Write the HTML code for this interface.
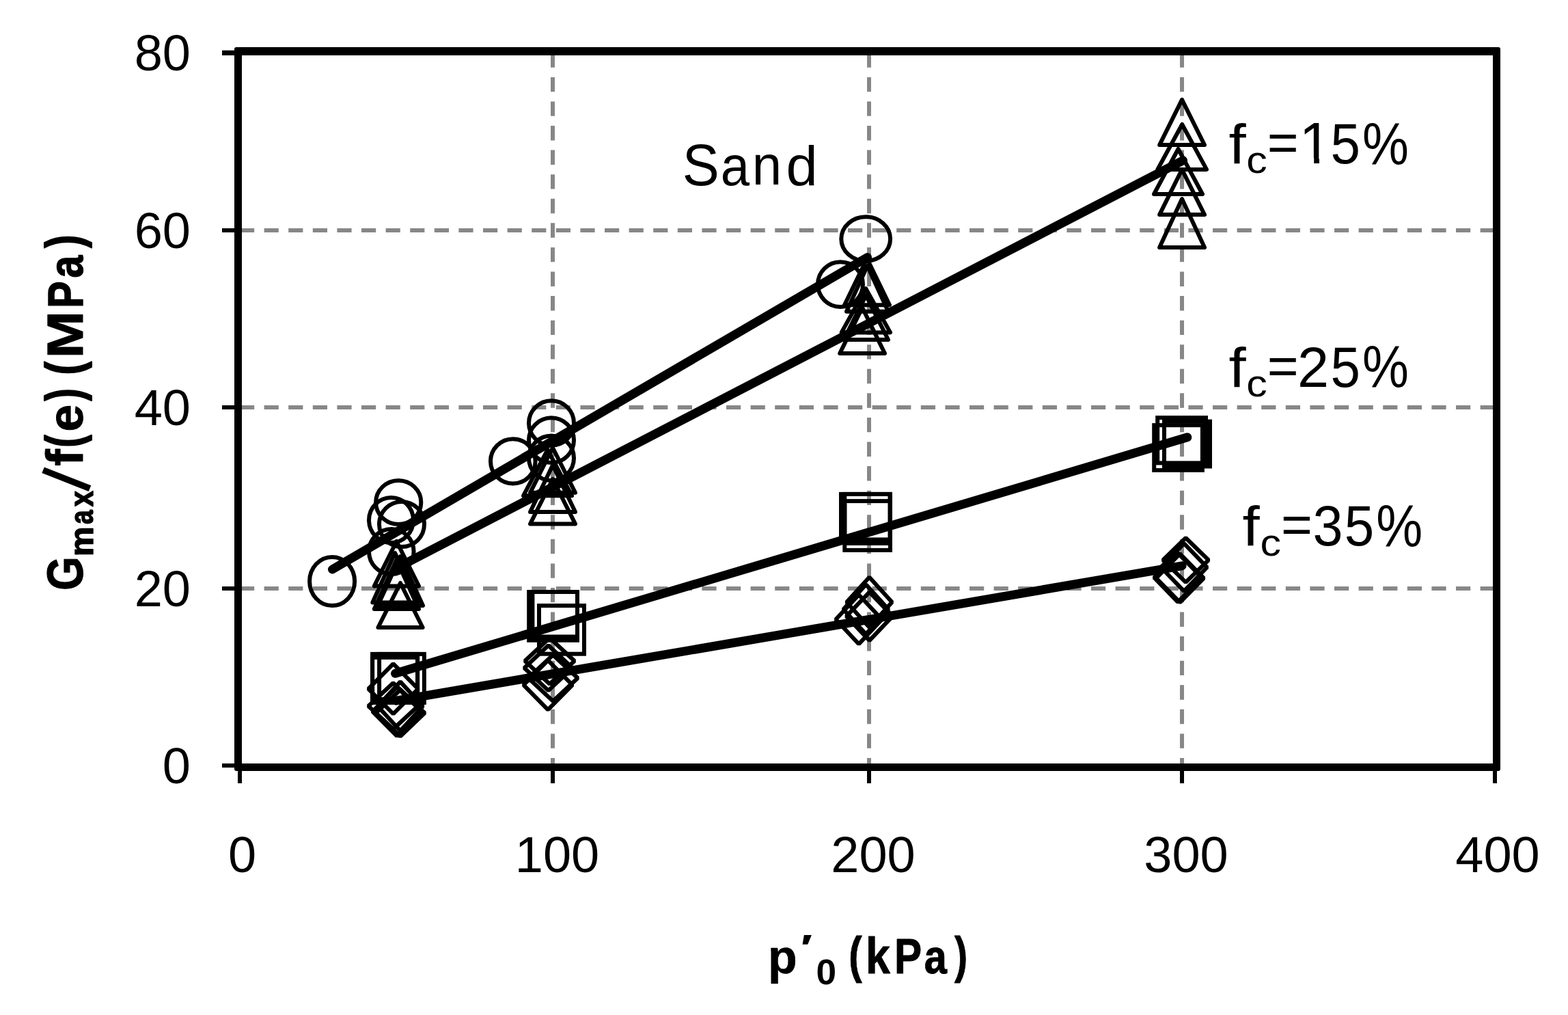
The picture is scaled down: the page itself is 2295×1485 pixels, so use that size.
<!DOCTYPE html>
<html lang="en"><head><meta charset="utf-8"><title>Gmax/f(e) vs p'0</title>
<style>html,body{margin:0;padding:0;background:#fff;}body{width:2295px;height:1485px;overflow:hidden;}svg{display:block;}text{font-family:"Liberation Sans",sans-serif;fill:#000;}.tk{font-size:74px;}.ar{font-size:81px;}.bd{font-weight:bold;font-size:72px;}</style></head><body>
<svg xmlns="http://www.w3.org/2000/svg" width="2295" height="1485" viewBox="0 0 2295 1485">
<rect x="0" y="0" width="2295" height="1485" fill="#fff"/>
<g stroke="#878787" stroke-width="6" fill="none">
<line x1="351" y1="337" x2="2190" y2="337" stroke-dasharray="21.2 14.4"/>
<line x1="351" y1="596" x2="2190" y2="596" stroke-dasharray="21.2 14.4"/>
<line x1="351" y1="861" x2="2190" y2="861" stroke-dasharray="21.2 14.4"/>
<line x1="809" y1="77.3" x2="809" y2="1122" stroke-dasharray="21.4 14.175"/>
<line x1="1272" y1="77.3" x2="1272" y2="1122" stroke-dasharray="21.4 14.175"/>
<line x1="1730" y1="77.3" x2="1730" y2="1122" stroke-dasharray="21.4 14.175"/>
</g>
<path fill="#000" fill-rule="evenodd" d="M346 69H2193A3 3 0 0 1 2196 72V1125A3 3 0 0 1 2193 1128H346A3 3 0 0 1 343 1125V72A3 3 0 0 1 346 69ZM354 81V1117H2185V81Z"/>
<g stroke="#000" stroke-width="6" fill="none">
<line x1="325" y1="77.35" x2="345" y2="77.35" stroke-width="7.3"/>
<line x1="325" y1="337" x2="345" y2="337"/>
<line x1="325" y1="596" x2="345" y2="596"/>
<line x1="325" y1="861" x2="345" y2="861"/>
<line x1="325" y1="1120" x2="345" y2="1120"/>
<line x1="351" y1="1125" x2="351" y2="1146"/>
<line x1="809" y1="1125" x2="809" y2="1146"/>
<line x1="1272" y1="1125" x2="1272" y2="1146"/>
<line x1="1730" y1="1125" x2="1730" y2="1146"/>
<line x1="2188" y1="1125" x2="2188" y2="1146"/>
</g>
<g stroke="#000" stroke-width="13" fill="none" stroke-linecap="round" stroke-linejoin="round">
<polyline points="486.5,833 1269.5,376.5"/>
<polyline points="581,830.7 1731.5,234.7"/>
<polyline points="578.6,985.3 1737.8,639.8"/>
<polyline points="580,1025.2 1730,827.8"/>
</g>
<g stroke="#000" stroke-width="6.0" fill="none" stroke-linejoin="round">
<ellipse cx="486.1" cy="850.5" rx="33.0" ry="35.6"/>
<ellipse cx="583.2" cy="735.0" rx="33.1" ry="32.0"/>
<ellipse cx="572.5" cy="761.0" rx="32.5" ry="33.0"/>
<ellipse cx="588.0" cy="767.0" rx="33.0" ry="33.0"/>
<ellipse cx="572.8" cy="807.0" rx="32.8" ry="33.0"/>
<ellipse cx="750.8" cy="674.8" rx="32.8" ry="32.6"/>
<ellipse cx="807.0" cy="618.9" rx="33.0" ry="32.7"/>
<ellipse cx="807.0" cy="644.1" rx="33.0" ry="32.9"/>
<ellipse cx="807.0" cy="670.3" rx="33.0" ry="32.7"/>
<ellipse cx="1230.0" cy="416.1" rx="33.0" ry="32.8"/>
<ellipse cx="1267.2" cy="349.5" rx="35.9" ry="32.3"/>
<path d="M580.4 792.0L613.0 857.4L547.8 857.4Z"/>
<path d="M578.1 809.0L611.0 881.4L545.3 881.4Z"/>
<path d="M586.0 814.0L619.0 886.0L553.0 886.0Z"/>
<path d="M580.4 819.0L613.0 891.0L547.8 891.0Z"/>
<path d="M586.0 853.0L618.6 918.0L553.4 918.0Z"/>
<path d="M809.0 701.0L842.0 766.5L776.0 766.5Z"/>
<path d="M809.0 680.5L842.0 749.0L776.0 749.0Z"/>
<path d="M801.5 658.0L837.0 725.3L766.0 725.3Z"/>
<path d="M809.0 655.0L842.0 720.8L776.0 720.8Z"/>
<path d="M1269.0 378.3L1302.0 446.3L1236.0 446.3Z"/>
<path d="M1269.5 389.0L1300.0 455.8L1239.0 455.8Z"/>
<path d="M1267.3 422.2L1303.0 486.4L1231.7 486.4Z"/>
<path d="M1267.5 432.2L1300.0 497.0L1235.0 497.0Z"/>
<path d="M1262.1 450.0L1295.0 517.0L1229.2 517.0Z"/>
<path d="M1730.0 145.8L1763.0 212.1L1697.1 212.1Z"/>
<path d="M1730.2 182.0L1766.0 247.9L1694.3 247.9Z"/>
<path d="M1724.5 218.0L1760.0 284.0L1689.0 284.0Z"/>
<path d="M1730.0 248.0L1763.0 314.1L1697.1 314.1Z"/>
<path d="M1730.0 291.0L1763.0 362.0L1697.1 362.0Z"/>
</g>
<g stroke="#000" stroke-width="6.0" fill="none" stroke-linejoin="miter">
<rect x="545.1" y="956.9" width="66.0" height="66.1"/>
<rect x="555.1" y="956.9" width="65.8" height="71.1"/>
<rect x="545.1" y="961.9" width="66.0" height="66.1"/>
<rect x="774.2" y="866.0" width="70.8" height="70.8"/>
<rect x="779.4" y="866.0" width="65.6" height="65.5"/>
<rect x="789.0" y="886.1" width="66.0" height="70.6"/>
<rect x="1231.0" y="722.9" width="72.0" height="66.5"/>
<rect x="1236.3" y="733.1" width="66.7" height="71.8"/>
<rect x="1236.3" y="722.9" width="66.2" height="72.0"/>
<rect x="1689.2" y="622.1" width="70.7" height="65.8"/>
<rect x="1694.2" y="611.1" width="70.8" height="66.3"/>
<rect x="1704.0" y="616.6" width="67.0" height="65.8"/>
</g>
<g stroke="#000" stroke-width="6.0" fill="none" stroke-linejoin="bevel">
<path d="M575.6 971.1L612.0 1007.8L575.6 1044.5L539.2 1007.8Z"/>
<path d="M575.5 999.2L611.8 1033.0L575.5 1066.8L539.2 1033.0Z"/>
<path d="M585.9 997.4L618.9 1033.3L585.9 1069.2L552.9 1033.3Z"/>
<path d="M585.9 1009.2L621.7 1043.2L585.9 1077.3L550.1 1043.2Z"/>
<path d="M581.0 1005.2L616.8 1041.0L581.0 1076.8L545.2 1041.0Z"/>
<path d="M804.5 933.2L840.8 967.0L804.5 1000.8L768.3 967.0Z"/>
<path d="M802.6 944.2L837.8 977.3L802.6 1010.4L767.4 977.3Z"/>
<path d="M809.4 958.2L845.6 992.0L809.4 1025.8L773.2 992.0Z"/>
<path d="M802.0 966.2L837.8 1002.2L802.0 1038.3L766.3 1002.2Z"/>
<path d="M1272.4 844.4L1305.6 881.1L1272.4 917.8L1239.2 881.1Z"/>
<path d="M1267.4 855.2L1300.4 891.5L1267.4 927.8L1234.4 891.5Z"/>
<path d="M1257.0 870.2L1290.8 906.2L1257.0 942.3L1223.3 906.2Z"/>
<path d="M1272.6 866.2L1306.4 901.6L1272.6 937.1L1238.8 901.6Z"/>
<path d="M1735.5 787.0L1768.9 819.4L1735.5 851.8L1702.2 819.4Z"/>
<path d="M1733.0 795.2L1766.7 830.0L1733.0 864.8L1699.2 830.0Z"/>
<path d="M1724.0 809.2L1758.9 845.0L1724.0 880.8L1689.2 845.0Z"/>
<path d="M1727.0 810.2L1761.9 845.8L1727.0 881.3L1692.2 845.8Z"/>
</g>
<g class="tk" text-anchor="end">
<text x="279" y="103.3">80</text>
<text x="279" y="363.3">60</text>
<text x="279" y="622.3">40</text>
<text x="279" y="887.3">20</text>
<text x="279" y="1146.3">0</text>
</g>
<g class="tk" text-anchor="middle">
<text x="354.5" y="1275.5">0</text>
<text x="815.5" y="1275.5">100</text>
<text x="1278" y="1275.5">200</text>
<text x="1736" y="1275.5">300</text>
<text x="2192" y="1275.5">400</text>
</g>
<text class="ar"><tspan x="998.75" y="270.55" font-size="85.37" textLength="54.06" lengthAdjust="spacingAndGlyphs">S</tspan><tspan x="1054.77" y="270.58" font-size="82.01" textLength="42.32" lengthAdjust="spacingAndGlyphs">a</tspan><tspan x="1100.73" y="270.40" font-size="81.67" textLength="43.44" lengthAdjust="spacingAndGlyphs">n</tspan><tspan x="1150.47" y="270.59" font-size="81.50" textLength="46.22" lengthAdjust="spacingAndGlyphs">d</tspan></text>
<clipPath id="nofoot"><path clip-rule="evenodd" d="M1780 150H2100V270H1780ZM1900 231.3H1923.2V242H1900ZM1931 231.3H1950V242H1931Z"/></clipPath>
<text class="ar" clip-path="url(#nofoot)"><tspan x="1798.44" y="239.20" font-size="81.94" textLength="25.16" lengthAdjust="spacingAndGlyphs">f</tspan><tspan x="1824.21" y="253.45" font-size="54.98" textLength="30.47" lengthAdjust="spacingAndGlyphs">c</tspan><tspan x="1854.87" y="234.98" font-size="77.52" textLength="45.88" lengthAdjust="spacingAndGlyphs">=</tspan><tspan x="1901.54" y="239.30" font-size="84.95" textLength="47.19" lengthAdjust="spacingAndGlyphs">1</tspan><tspan x="1947.58" y="239.17" font-size="83.15" textLength="43.44" lengthAdjust="spacingAndGlyphs">5</tspan><tspan x="1993.93" y="239.57" font-size="86.31" textLength="67.87" lengthAdjust="spacingAndGlyphs">%</tspan></text>
<text class="ar"><tspan x="1798.44" y="566.10" font-size="81.94" textLength="25.16" lengthAdjust="spacingAndGlyphs">f</tspan><tspan x="1824.21" y="580.35" font-size="54.98" textLength="30.47" lengthAdjust="spacingAndGlyphs">c</tspan><tspan x="1854.87" y="561.88" font-size="77.52" textLength="45.88" lengthAdjust="spacingAndGlyphs">=</tspan><tspan x="1899.06" y="566.20" font-size="83.73" textLength="46.08" lengthAdjust="spacingAndGlyphs">2</tspan><tspan x="1947.58" y="566.07" font-size="83.15" textLength="43.44" lengthAdjust="spacingAndGlyphs">5</tspan><tspan x="1993.93" y="566.47" font-size="86.31" textLength="67.87" lengthAdjust="spacingAndGlyphs">%</tspan></text>
<text class="ar"><tspan x="1818.64" y="798.30" font-size="81.94" textLength="25.16" lengthAdjust="spacingAndGlyphs">f</tspan><tspan x="1844.41" y="812.55" font-size="54.98" textLength="30.47" lengthAdjust="spacingAndGlyphs">c</tspan><tspan x="1875.07" y="794.08" font-size="77.52" textLength="45.88" lengthAdjust="spacingAndGlyphs">=</tspan><tspan x="1921.53" y="797.57" font-size="82.54" textLength="44.03" lengthAdjust="spacingAndGlyphs">3</tspan><tspan x="1967.78" y="798.27" font-size="83.15" textLength="43.44" lengthAdjust="spacingAndGlyphs">5</tspan><tspan x="2014.13" y="798.67" font-size="86.31" textLength="67.87" lengthAdjust="spacingAndGlyphs">%</tspan></text>
<text class="bd"><tspan x="1124.06" y="1423.88" font-size="69.97" textLength="42.70" lengthAdjust="spacingAndGlyphs" stroke="#000" stroke-width="0.6" stroke-linejoin="round">p</tspan><tspan x="1171.56" y="1405.30" font-size="54.26" textLength="17.72" lengthAdjust="spacingAndGlyphs">′</tspan><tspan x="1194.57" y="1439.78" font-size="52.30" textLength="29.62" lengthAdjust="spacingAndGlyphs">0</tspan><tspan x="1228.0" y="1424.8" font-size="75.0"> </tspan><tspan x="1242.29" y="1422.85" font-size="73.99" textLength="19.39" lengthAdjust="spacingAndGlyphs" stroke="#000" stroke-width="1" stroke-linejoin="round">(</tspan><tspan x="1266.65" y="1424.40" font-size="74.48" textLength="36.17" lengthAdjust="spacingAndGlyphs" stroke="#000" stroke-width="0.8" stroke-linejoin="round">k</tspan><tspan x="1308.94" y="1424.30" font-size="72.87" textLength="40.14" lengthAdjust="spacingAndGlyphs" stroke="#000" stroke-width="1" stroke-linejoin="round">P</tspan><tspan x="1352.71" y="1424.19" font-size="71.05" textLength="33.11" lengthAdjust="spacingAndGlyphs" stroke="#000" stroke-width="1" stroke-linejoin="round">a</tspan><tspan x="1397.06" y="1422.85" font-size="73.99" textLength="19.15" lengthAdjust="spacingAndGlyphs" stroke="#000" stroke-width="1" stroke-linejoin="round">)</tspan></text>
<text class="bd" transform="translate(0,862) rotate(-90)"><tspan x="-1.75" y="120.86" font-size="73.92" textLength="49.55" lengthAdjust="spacingAndGlyphs" stroke="#000" stroke-width="1.2" stroke-linejoin="round">G</tspan><tspan x="48.07" y="135.65" font-size="48.00" textLength="43.50" lengthAdjust="spacingAndGlyphs" stroke="#000" stroke-width="1.5" stroke-linejoin="round">m</tspan><tspan x="94.94" y="135.77" font-size="48.22" textLength="20.58" lengthAdjust="spacingAndGlyphs" stroke="#000" stroke-width="1.5" stroke-linejoin="round">a</tspan><tspan x="120.64" y="135.65" font-size="47.77" textLength="23.07" lengthAdjust="spacingAndGlyphs" stroke="#000" stroke-width="1.5" stroke-linejoin="round">x</tspan><tspan x="142.80" y="127.50" font-size="102.00" textLength="21.27" lengthAdjust="spacingAndGlyphs" rotate="17">/</tspan><tspan x="180.30" y="121.00" font-size="75.86" textLength="24.65" lengthAdjust="spacingAndGlyphs" stroke="#000" stroke-width="1" stroke-linejoin="round">f</tspan><tspan x="207.59" y="118.76" font-size="73.46" textLength="18.08" lengthAdjust="spacingAndGlyphs" stroke="#000" stroke-width="2" stroke-linejoin="round">(</tspan><tspan x="230.54" y="121.08" font-size="72.15" textLength="39.77" lengthAdjust="spacingAndGlyphs" stroke="#000" stroke-width="1" stroke-linejoin="round">e</tspan><tspan x="275.56" y="118.76" font-size="73.46" textLength="18.20" lengthAdjust="spacingAndGlyphs" stroke="#000" stroke-width="2" stroke-linejoin="round">)</tspan><tspan x="296.0" y="121.5" font-size="75.0"> </tspan><tspan x="313.71" y="118.76" font-size="73.46" textLength="19.27" lengthAdjust="spacingAndGlyphs" stroke="#000" stroke-width="2" stroke-linejoin="round">(</tspan><tspan x="337.89" y="121.00" font-size="73.45" textLength="69.27" lengthAdjust="spacingAndGlyphs" stroke="#000" stroke-width="1" stroke-linejoin="round">M</tspan><tspan x="411.16" y="120.75" font-size="72.73" textLength="39.43" lengthAdjust="spacingAndGlyphs" stroke="#000" stroke-width="1.5" stroke-linejoin="round">P</tspan><tspan x="455.49" y="120.84" font-size="71.23" textLength="32.69" lengthAdjust="spacingAndGlyphs" stroke="#000" stroke-width="1.5" stroke-linejoin="round">a</tspan><tspan x="499.26" y="118.76" font-size="73.46" textLength="19.15" lengthAdjust="spacingAndGlyphs" stroke="#000" stroke-width="2" stroke-linejoin="round">)</tspan></text>
</svg></body></html>
